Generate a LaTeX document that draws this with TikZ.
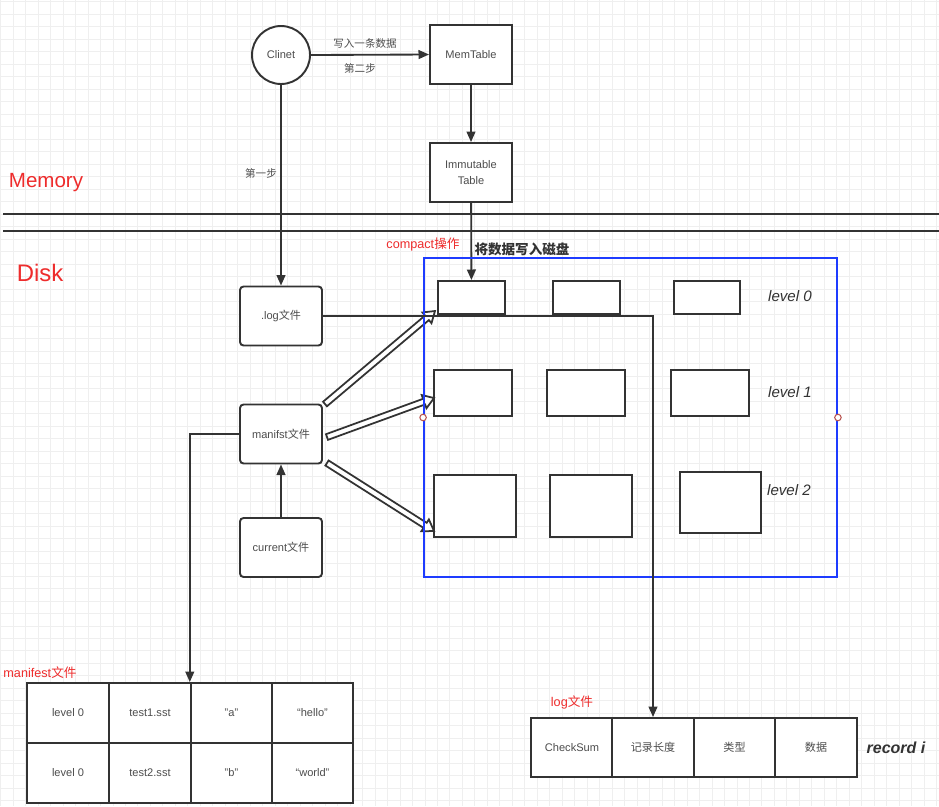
\documentclass[tikz,border=0pt]{standalone}
\usepackage{fontspec}
\setmainfont{Liberation Sans}
\newfontfamily\zh{Noto Sans CJK SC}
\usetikzlibrary{arrows.meta,calc}
\definecolor{lsmInk}{HTML}{333333}
\definecolor{lsmText}{HTML}{4D4D4D}
\definecolor{lsmRed}{HTML}{EE2C2C}
\definecolor{lsmBlue}{HTML}{1E3CFF}
\definecolor{lsmGrid}{HTML}{EFEFEF}
\definecolor{lsmPin}{HTML}{B85450}
\tikzset{
  lsm box/.style={draw=lsmInk, line width=1.1pt, fill=white, text=lsmText, font=\fontsize{6.3}{7.6}\selectfont, align=center, inner sep=0pt},
  lsm file/.style={lsm box, rounded corners=2pt, minimum width=1.64cm, minimum height=1.18cm},
  lsm sst/.style={draw=lsmInk, line width=1.1pt, fill=white},
  lsm cell/.style={lsm box, minimum width=1.63cm, minimum height=1.2cm},
  lsm link/.style={draw=lsmInk, line width=1.05pt},
  lsm arrow/.style={lsm link, -{Triangle[length=6pt,width=5pt]}},
  lsm hollow/.style={draw=lsmInk, line width=1pt, fill=white, line join=miter},
  lsm note/.style={text=lsmText, font=\fontsize{6}{7}\selectfont},
  lsm red/.style={text=lsmRed, font=\fontsize{7.2}{8.5}\selectfont},
  lsm level/.style={text=lsmInk, font=\fontsize{8.6}{10}\selectfont\itshape},
  lsm grid/.style={draw=lsmGrid, line width=0.35pt},
}
% hollow (flex) arrow from #1 to #2
\newcommand\lsmflex[2]{%
  \coordinate (#2-h) at ($(#2)!6pt!(#1)$);
  \draw[lsm hollow] ($(#1)!1.7pt!90:(#2)$) -- ($(#2-h)!1.7pt!-90:(#1)$) -- ($(#2-h)!4pt!-90:(#1)$)
    -- (#2) -- ($(#2-h)!4pt!90:(#1)$) -- ($(#2-h)!1.7pt!90:(#1)$) -- ($(#1)!1.7pt!-90:(#2)$) -- cycle;}

\begin{document}
\begin{tikzpicture}[x=0.02cm, y=-0.02cm]
  \fill[white] (0,0) rectangle (939,806);
  \useasboundingbox (0,0) rectangle (939,806);
  \foreach \i in {0,...,75} \draw[lsm grid] ({0.5+12.48*\i},0) -- ({0.5+12.48*\i},806);
  \foreach \j in {0,...,64} \draw[lsm grid] (0,{1.8+12.48*\j}) -- (939,{1.8+12.48*\j});

  % memory / disk border
  \node[text=lsmRed, font=\fontsize{11.7}{14}\selectfont] (memlbl) at (46,183) {Memory};
  \node[text=lsmRed, font=\fontsize{13.6}{16}\selectfont] (disklbl) at (40,273) {Disk};
  \draw[lsm link, line width=1.1pt] (3,214) -- (939,214);
  \draw[lsm link, line width=1.1pt] (3,231) -- (939,231);

  % memory side
  \node[lsm box, circle, minimum size=1.16cm] (cli) at (281,55) {Clinet};
  \node[lsm box, minimum width=1.64cm, minimum height=1.18cm] (mem) at (471,54.5) {MemTable};
  \node[lsm box, minimum width=1.64cm, minimum height=1.18cm] (imm) at (471,172.5) {Immutable\\[1.5pt]Table};
  \draw[lsm arrow] (cli.east) -- (mem.west);
  \node[lsm note] (wr) at (365,43) {\zh 写入一条数据};
  \node[lsm note] (step2) at (360,68) {\zh 第二步};
  \draw[lsm arrow] (mem) -- (imm);

  % files
  \node[lsm file] (logf) at (281,316) {.log{\zh 文件}};
  \node[lsm file] (manif) at (281,434) {manifst{\zh 文件}};
  \node[lsm file] (cur) at (281,547.5) {current{\zh 文件}};
  \draw[lsm arrow] (cli) -- (logf);
  \node[lsm note] (step1) at (261,173) {\zh 第一步};
  \draw[lsm arrow] (cur) -- (manif);

  % levels
  \foreach \n/\x in {a/471.5,b/586.5,c/707}
    \node[lsm sst, minimum width=1.33cm, minimum height=0.66cm] (l0\n) at (\x,297.5) {};
  \foreach \n/\x in {a/473,b/586,c/710}
    \node[lsm sst, minimum width=1.56cm, minimum height=0.92cm] (l1\n) at (\x,393) {};
  \node[lsm sst, minimum width=1.64cm, minimum height=1.24cm] (l2a) at (475,506) {};
  \node[lsm sst, minimum width=1.64cm, minimum height=1.24cm] (l2b) at (591,506) {};
  \node[lsm sst, minimum width=1.62cm, minimum height=1.22cm] (l2c) at (720.5,502.5) {};
  \node[lsm level] (lv0) at (790,296) {level 0};
  \node[lsm level] (lv1) at (790,392) {level 1};
  \node[lsm level] (lv2) at (789,490) {level 2};
  \draw[lsm arrow] (imm) -- (l0a);
  \node[text=lsmInk, font=\fontsize{7.7}{9}\selectfont] (todisk) at (522,249) {\zh\bfseries 将数据写入磁盘};
  \node[lsm red] (compact) at (423,244) {compact{\zh 操作}};

  \coordinate (fa1) at (325,404); \coordinate (fb1) at (435,311);
  \coordinate (fa2) at (327,437); \coordinate (fb2) at (434,398);
  \coordinate (fa3) at (327,463); \coordinate (fb3) at (434,531);
  \lsmflex{fa1}{fb1}
  \lsmflex{fa2}{fb2}
  \lsmflex{fa3}{fb3}
  \node[draw=lsmBlue, line width=1.1pt, minimum width=8.26cm, minimum height=6.38cm] (lvls) at (630.5,417.5) {};
  \node[circle, draw=lsmPin, fill=white, line width=0.6pt, minimum size=0.13cm, inner sep=0pt] (pinw) at (lvls.west) {};
  \node[circle, draw=lsmPin, fill=white, line width=0.6pt, minimum size=0.13cm, inner sep=0pt] (pine) at (lvls.east) {};

  % manifest table
  \node[lsm red] (mflbl) at (40,673) {manifest{\zh 文件}};
  \foreach \c/\x/\t in {1/68/level 0,2/150/test1.sst,3/231.5/"a",4/312.5/“hello”}
    \node[lsm cell] (m1\c) at (\x,713) {\t};
  \foreach \c/\x/\t in {1/68/level 0,2/150/test2.sst,3/231.5/"b",4/312.5/“world”}
    \node[lsm cell] (m2\c) at (\x,773) {\t};
  \draw[lsm arrow] (manif.west) -| (m13.north west);

  % log table
  \node[lsm red] (lglbl) at (572,702) {log{\zh 文件}};
  \foreach \c/\x/\t in {1/572/CheckSum,2/653/{\zh 记录长度},3/734.5/{\zh 类型},4/816/{\zh 数据}}
    \node[lsm cell, minimum height=1.18cm] (g\c) at (\x,747.5) {\t};
  \node[text=lsmInk, font=\fontsize{9.1}{11}\selectfont\bfseries\itshape] (rec) at (896,748) {record i};
  \draw[lsm arrow] (logf.east) -| (g2.north);
\end{tikzpicture}
\end{document}
